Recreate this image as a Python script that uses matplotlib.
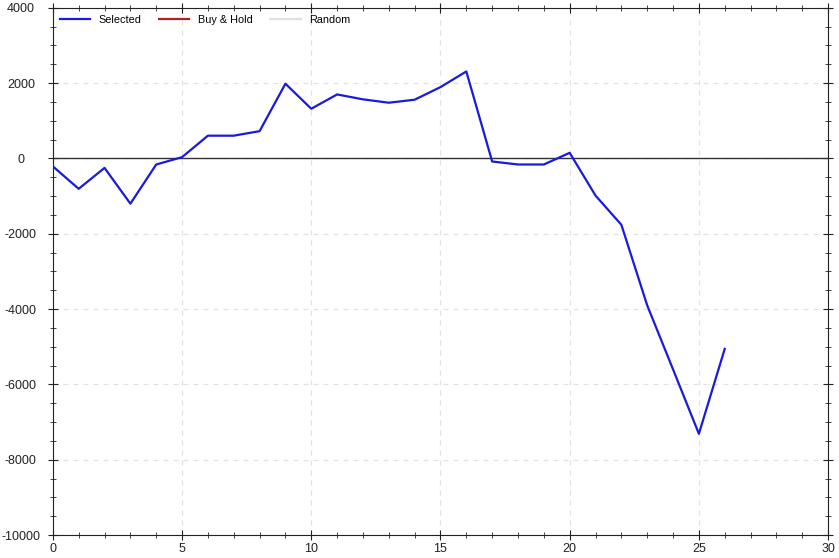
import matplotlib
matplotlib.use('Agg')
import matplotlib.pyplot as plt
from matplotlib.ticker import MultipleLocator

plt.rcParams['font.family'] = ['Liberation Sans', 'DejaVu Sans']
plt.rcParams['axes.unicode_minus'] = False

# equity curve of the selected strategy, one value per period
periods = list(range(27))
selected = [-210, -805, -250, -1200, -160, 35, 605, 605, 725, 1985, 1320, 1700,
            1570, 1480, 1560, 1895, 2310, -80, -160, -160, 150, -985, -1760,
            -3900, -5600, -7310, -5055]
buy_hold = []
random_ = []

fig = plt.figure(figsize=(8.39, 5.58), dpi=100)
ax = fig.add_axes([0.063, 0.041, 0.924, 0.945])

ax.plot(periods, selected, color='#1a1adc', lw=1.6, label='Selected', zorder=3)
ax.plot(range(len(buy_hold)), buy_hold, color='#b22222', lw=1.6, label='Buy & Hold')
ax.plot(range(len(random_)), random_, color='#e0e0e0', lw=1.6, label='Random')
ax.axhline(0, color='#333333', lw=1, zorder=2)

ax.set_xlim(0, 30)
ax.set_ylim(-10000, 4000)
ax.xaxis.set_major_locator(MultipleLocator(5))
ax.xaxis.set_minor_locator(MultipleLocator(1))
ax.yaxis.set_major_locator(MultipleLocator(2000))
ax.yaxis.set_minor_locator(MultipleLocator(500))
ax.tick_params(which='both', direction='inout', top=True, right=True,
               labelsize=9, colors='#222222')
ax.tick_params(axis='x', pad=2.3)
ax.tick_params(axis='y', pad=19.5)
ax.tick_params(which='major', length=7)
ax.tick_params(which='minor', length=5)
for lbl in ax.get_yticklabels():
    lbl.set_ha('center')
ax.grid(True, which='major', ls=(0, (4, 4)), color='#e2e2e2', lw=0.9)
for s in ax.spines.values():
    s.set_color('#222222')

ax.legend(loc='upper left', ncol=3, frameon=False, fontsize=7.8,
          handlelength=2.8, columnspacing=1.6, borderaxespad=0.25)

fig.savefig('out.png', dpi=100)
